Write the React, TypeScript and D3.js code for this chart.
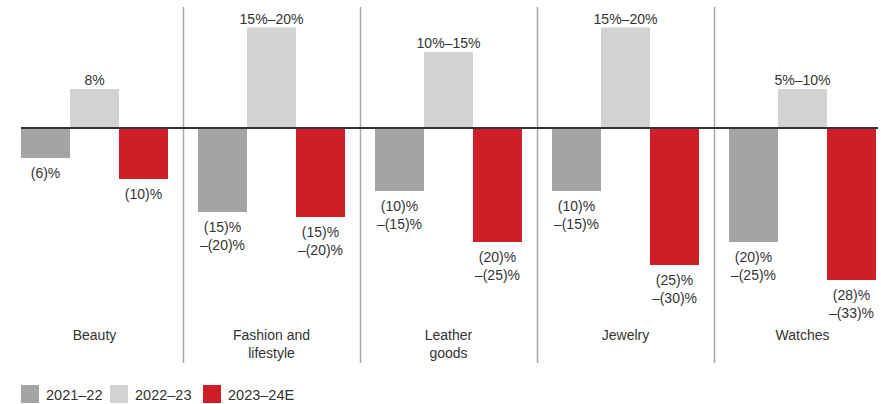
import React from "react";
import * as d3 from "d3";

const categories = ["Beauty", "Fashion and\nlifestyle", "Leather\ngoods", "Jewelry", "Watches"];
const seriesNames = ["2021–22", "2022–23", "2023–24E"];
const values2122 = [-6, -16.8, -12.6, -12.6, -22.8];
const values2223 = [7.8, 20.1, 15.2, 20.1, 7.8];
const values2324 = [-10.2, -17.8, -22.8, -27.4, -30.4];
const labels2122 = ["(6)%", "(15)%\n–(20)%", "(10)%\n–(15)%", "(10)%\n–(15)%", "(20)%\n–(25)%"];
const labels2223 = ["8%", "15%–20%", "10%–15%", "15%–20%", "5%–10%"];
const labels2324 = ["(10)%", "(15)%\n–(20)%", "(20)%\n–(25)%", "(25)%\n–(30)%", "(28)%\n–(33)%"];

const colors = ["#a4a4a3", "#d2d2d1", "#cc1f28"];
const W = 881;
const H = 404;
const FONT = "'Liberation Sans', Arial, sans-serif";
const TEXT = "#333333";

export default function App() {
  const x = d3.scaleBand<string>().domain(categories).range([6, 891]).paddingInner(0).paddingOuter(0);
  const xi = d3.scaleBand<string>().domain(seriesNames).range([15, 162]).padding(0);
  const y = d3.scaleLinear().domain([25, -40]).range([3, 328]);
  const series = [values2122, values2223, values2324];
  const labels = [labels2122, labels2223, labels2324];
  const y0 = y(0);

  return (
    <svg width={W} height={H} style={{ position: "absolute", left: 0, top: 0, background: "#fff" }} fontFamily={FONT}>
      {/* separators */}
      {categories.slice(1).map((c) => (
        <line key={c} x1={x(c)! + 0.5} x2={x(c)! + 0.5} y1={7} y2={363} stroke="#a8a8a8" strokeWidth={1.5} />
      ))}
      {/* bars */}
      {categories.map((c, ci) => (
        <g key={c} transform={`translate(${x(c)},0)`}>
          {seriesNames.map((s, si) => {
            const v = series[si][ci];
            const bx = xi(s)!;
            const bw = xi.bandwidth();
            const top = Math.min(y(v), y0);
            const h = Math.abs(y(v) - y0);
            const lines = labels[si][ci].split("\n");
            const cx = bx + bw / 2;
            return (
              <g key={s}>
                <rect x={bx} y={top} width={bw} height={h} fill={colors[si]} />
                {v >= 0 ? (
                  <text x={cx} y={y(v) - 4} textAnchor="middle" fontSize={14} fill={TEXT}>
                    {lines[0]}
                  </text>
                ) : (
                  lines.map((t, li) => (
                    <text key={li} x={cx} y={y(v) + 20 + li * 18} textAnchor="middle" fontSize={14} fill={TEXT}>
                      {t}
                    </text>
                  ))
                )}
              </g>
            );
          })}
          {c.split("\n").map((t, li) => (
            <text key={li} x={x.bandwidth() / 2} y={340 + li * 18} textAnchor="middle" fontSize={14} fill={TEXT}>
              {t}
            </text>
          ))}
        </g>
      ))}
      {/* zero line */}
      <line x1={21} x2={878} y1={y0} y2={y0} stroke="#333" strokeWidth={2} />
      {/* legend */}
      {seriesNames.map((s, i) => {
        const lx = [21, 110, 203][i];
        return (
          <g key={s}>
            <rect x={lx} y={385} width={18} height={18} fill={colors[i]} />
            <text x={lx + 25} y={400} fontSize={14.5} fill={TEXT}>
              {s}
            </text>
          </g>
        );
      })}
    </svg>
  );
}
